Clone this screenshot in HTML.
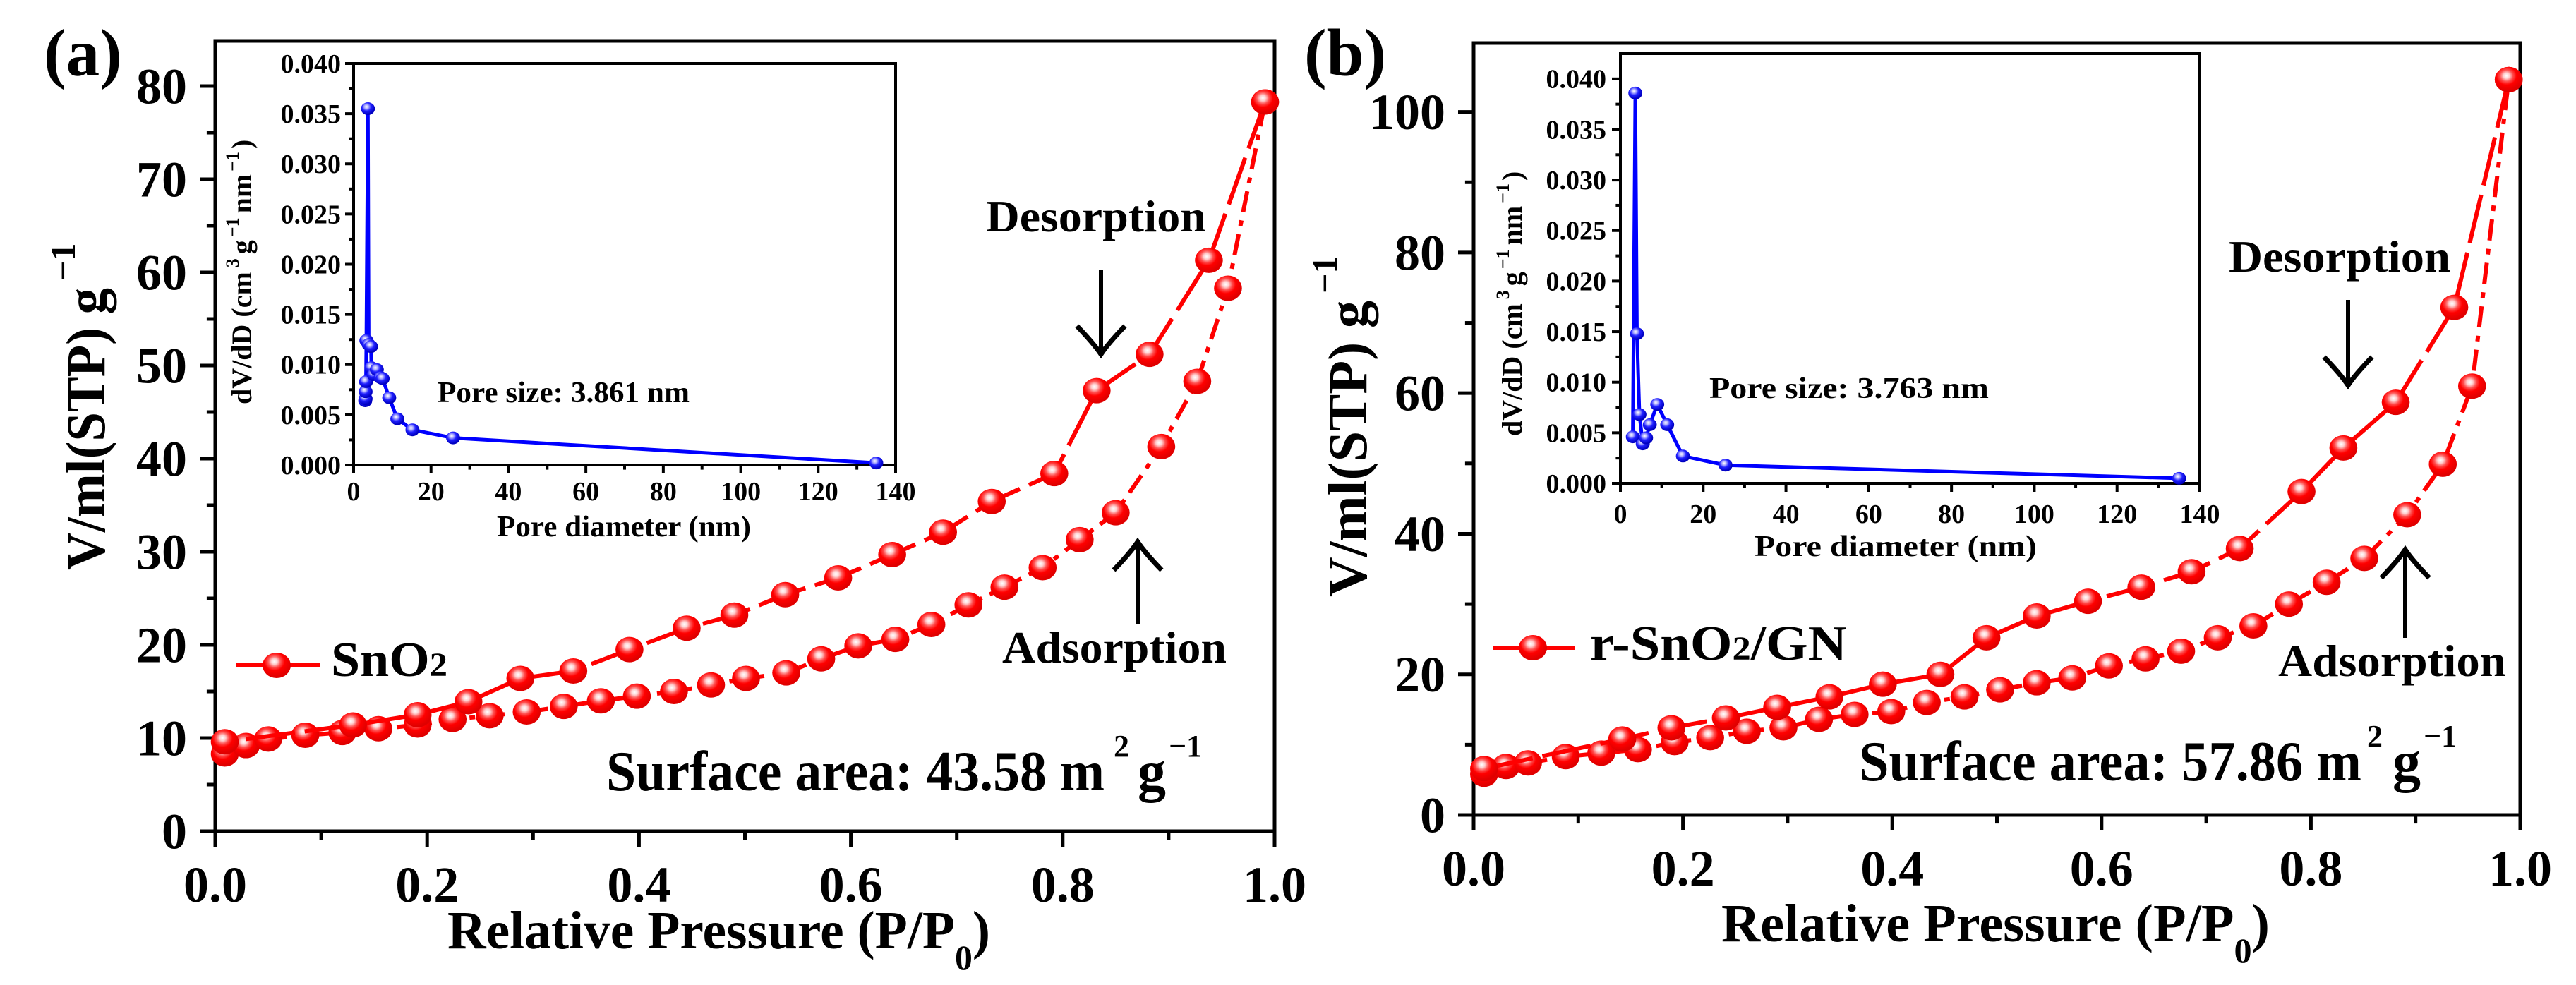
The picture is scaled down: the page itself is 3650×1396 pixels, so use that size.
<!DOCTYPE html>
<html><head><meta charset="utf-8">
<style>
html,body{margin:0;padding:0;background:#fff;}
svg{display:block;font-family:"Liberation Serif","Times New Roman",serif;font-weight:bold;}
</style></head>
<body>
<svg id="fig" width="3650" height="1396" viewBox="0 0 3650 1396" xmlns="http://www.w3.org/2000/svg">
<defs>
<radialGradient id="rg" cx="0.42" cy="0.35" r="0.6">
<stop offset="0" stop-color="#ffffff"/><stop offset="0.18" stop-color="#ffd0d0"/><stop offset="0.38" stop-color="#ff5050"/><stop offset="0.6" stop-color="#ff0000"/><stop offset="1" stop-color="#e00000"/>
</radialGradient>
<radialGradient id="bg" cx="0.4" cy="0.35" r="0.6">
<stop offset="0" stop-color="#ffffff"/><stop offset="0.25" stop-color="#b0b0ff"/><stop offset="0.55" stop-color="#2020ff"/><stop offset="1" stop-color="#0000c0"/>
</radialGradient>
</defs>
<g id="layer"></g>

<text x="62" y="107" font-size="95">(a)</text>
<text x="1848" y="107" font-size="95">(b)</text>

<!-- Panel a texts -->
<text x="634" y="1344" font-size="76" textLength="769" lengthAdjust="spacingAndGlyphs">Relative Pressure (P/P<tspan dy="30" font-size="50">0</tspan><tspan dy="-30">)</tspan></text>
<text transform="translate(148,808) rotate(-90)" font-size="78"><tspan textLength="400" lengthAdjust="spacingAndGlyphs">V/ml(STP) g</tspan><tspan dy="-42" dx="10" font-size="50">−1</tspan></text>

<text transform="translate(356,573) rotate(-90)" font-size="40">dV/dD (cm<tspan dy="-18" dx="6" font-size="26">3</tspan><tspan dy="18" dx="6">g</tspan><tspan dy="-18" dx="4" font-size="26">−1</tspan><tspan dy="18" dx="6">nm</tspan><tspan dy="-18" dx="4" font-size="26">−1</tspan><tspan dy="18" dx="4">)</tspan></text>
<text x="704" y="760" font-size="42" textLength="360" lengthAdjust="spacingAndGlyphs">Pore diameter (nm)</text>
<text x="620" y="570" font-size="42" textLength="357" lengthAdjust="spacingAndGlyphs">Pore size: 3.861 nm</text>

<text x="469" y="958" font-size="70" textLength="165" lengthAdjust="spacingAndGlyphs">SnO<tspan font-size="48">2</tspan></text>
<text x="1397" y="328" font-size="64" textLength="312" lengthAdjust="spacingAndGlyphs">Desorption</text>
<text x="1420" y="939" font-size="64" textLength="318" lengthAdjust="spacingAndGlyphs">Adsorption</text>
<text x="859" y="1120" font-size="80" textLength="706" lengthAdjust="spacingAndGlyphs">Surface area: 43.58 m</text>
<text x="1578" y="1072" font-size="44">2</text>
<text x="1612" y="1120" font-size="80">g</text>
<text x="1656" y="1072" font-size="44">−1</text>

<!-- Panel b texts -->
<text x="2439" y="1334" font-size="76" textLength="777" lengthAdjust="spacingAndGlyphs">Relative Pressure (P/P<tspan dy="30" font-size="50">0</tspan><tspan dy="-30">)</tspan></text>
<text transform="translate(1936,846) rotate(-90)" font-size="78"><tspan textLength="420" lengthAdjust="spacingAndGlyphs">V/ml(STP) g</tspan><tspan dy="-42" dx="10" font-size="50">−1</tspan></text>

<text transform="translate(2156,618) rotate(-90)" font-size="40">dV/dD (cm<tspan dy="-18" dx="6" font-size="26">3</tspan><tspan dy="18" dx="6">g</tspan><tspan dy="-18" dx="4" font-size="26">−1</tspan><tspan dy="18" dx="6">nm</tspan><tspan dy="-18" dx="4" font-size="26">−1</tspan><tspan dy="18" dx="4">)</tspan></text>
<text x="2486" y="788" font-size="42" textLength="400" lengthAdjust="spacingAndGlyphs">Pore diameter (nm)</text>
<text x="2422" y="564" font-size="42" textLength="396" lengthAdjust="spacingAndGlyphs">Pore size: 3.763 nm</text>

<text x="2253" y="935" font-size="70" textLength="364" lengthAdjust="spacingAndGlyphs">r-SnO<tspan font-size="48">2</tspan>/GN</text>
<text x="3158" y="385" font-size="64" textLength="314" lengthAdjust="spacingAndGlyphs">Desorption</text>
<text x="3228" y="958" font-size="64" textLength="323" lengthAdjust="spacingAndGlyphs">Adsorption</text>
<text x="2634" y="1106" font-size="80" textLength="712" lengthAdjust="spacingAndGlyphs">Surface area: 57.86 m</text>
<text x="3354" y="1058" font-size="44">2</text>
<text x="3390" y="1106" font-size="80">g</text>
<text x="3434" y="1058" font-size="44">−1</text>
</svg>

<script>
// ---------- data ----------
const xTicksMain = [0, 0.2, 0.4, 0.6, 0.8, 1.0];
const xTickLabelsMain = ["0.0", "0.2", "0.4", "0.6", "0.8", "1.0"];
const yTicksA = [0, 10, 20, 30, 40, 50, 60, 70, 80];
const yTicksB = [0, 20, 40, 60, 80, 100];
const insetXTicks = [0, 20, 40, 60, 80, 100, 120, 140];
const insetYTicks = [0, 0.005, 0.01, 0.015, 0.02, 0.025, 0.03, 0.035, 0.04];
const insetYTickLabels = ["0.000","0.005","0.010","0.015","0.020","0.025","0.030","0.035","0.040"];

const aAdsX = [0.009,0.029,0.050,0.085,0.120,0.154,0.191,0.224,0.259,0.294,0.329,0.364,0.398,0.433,0.468,0.501,0.539,0.572,0.607,0.642,0.676,0.711,0.745,0.781,0.816,0.850,0.893,0.927,0.956,0.991];
const aAdsY = [8.3,9.2,9.9,10.3,10.6,11.0,11.4,12.0,12.4,12.8,13.4,14.0,14.5,15.0,15.7,16.4,17.0,18.5,19.9,20.6,22.2,24.3,26.2,28.3,31.3,34.2,41.3,48.3,58.3,78.3];
const aDesX = [0.991,0.938,0.882,0.832,0.792,0.733,0.687,0.639,0.588,0.538,0.490,0.445,0.391,0.338,0.288,0.239,0.191,0.130,0.009];
const aDesY = [78.3,61.3,51.2,47.3,38.4,35.4,32.1,29.7,27.2,25.4,23.2,21.8,19.5,17.2,16.4,13.9,12.5,11.4,9.6];

const bAdsX = [0.010,0.031,0.052,0.088,0.122,0.157,0.192,0.226,0.261,0.296,0.330,0.364,0.399,0.433,0.469,0.503,0.538,0.572,0.607,0.642,0.676,0.711,0.745,0.779,0.815,0.851,0.892,0.926,0.954,0.989];
const bAdsY = [5.8,6.9,7.4,8.3,8.8,9.3,10.3,11.0,11.9,12.4,13.6,14.3,14.7,16.0,16.8,17.8,18.8,19.5,21.2,22.2,23.3,25.2,26.9,30.0,33.1,36.5,42.7,49.9,61.0,104.6];
const bDesX = [0.989,0.937,0.881,0.831,0.791,0.732,0.686,0.638,0.587,0.538,0.490,0.446,0.391,0.340,0.290,0.241,0.189,0.142,0.010];
const bDesY = [104.6,72.2,58.7,52.2,46.0,37.9,34.6,32.4,30.4,28.3,25.2,20.0,18.6,16.8,15.3,13.8,12.4,10.8,6.6];

const insetAX = [3.0,3.1,3.1,3.2,3.3,3.7,3.9,4.5,4.6,5.2,6.0,7.0,7.5,9.2,11.3,15.2,25.7,135];
const insetAY = [0.0064,0.0066,0.0073,0.0083,0.0124,0.0355,0.0120,0.0118,0.0097,0.0090,0.0095,0.0087,0.0086,0.0067,0.0046,0.0035,0.0027,0.0002];
const insetBX = [3.0,3.6,4.0,4.6,5.4,6.2,7.1,8.9,11.3,15.1,25.4,135];
const insetBY = [0.0046,0.0386,0.0148,0.0068,0.0039,0.0045,0.0058,0.0078,0.0058,0.0027,0.0018,0.0005];

// ---------- drawing ----------
const NS = "http://www.w3.org/2000/svg";
const layer = document.getElementById('layer');
function mk(tag, attrs, parent) {
  const e = document.createElementNS(NS, tag);
  for (const k in attrs) e.setAttribute(k, attrs[k]);
  (parent || layer).appendChild(e);
  return e;
}
function scale(d0, d1, r0, r1) { return v => r0 + (v - d0) / (d1 - d0) * (r1 - r0); }

function axes(p, xt, xl, yt, yl, minorX, minorY, fs, tickLen, lw, labelGap) {
  const sx = scale(p.xmin, p.xmax, p.x0, p.x1);
  const sy = scale(p.ymin, p.ymax, p.yb, p.yt);
  const fr = mk('rect', {x:p.x0, y:p.yt, width:p.x1-p.x0, height:p.yb-p.yt, fill:'none', stroke:'#000', 'stroke-width':lw});
  
  
  xt.forEach((v, i) => {
    const t = mk('line', {x1:sx(v), x2:sx(v), y1:p.yb, y2:p.yb+tickLen, stroke:'#000', 'stroke-width':lw});
    
    
    const l = mk('text', {x:sx(v), y:p.yb+labelGap.x, 'font-size':fs, 'text-anchor':'middle'});
    l.textContent = xl[i];
    
    
  });
  minorX.forEach(v => {
    const t = mk('line', {x1:sx(v), x2:sx(v), y1:p.yb, y2:p.yb+tickLen*0.55, stroke:'#000', 'stroke-width':lw});
    
    
  });
  yt.forEach((v, i) => {
    const t = mk('line', {x1:p.x0-tickLen, x2:p.x0, y1:sy(v), y2:sy(v), stroke:'#000', 'stroke-width':lw});
    
    
    const l = mk('text', {x:p.x0-labelGap.y, y:sy(v)+fs*0.34, 'font-size':fs, 'text-anchor':'end'});
    l.textContent = yl[i];
    
    
  });
  minorY.forEach(v => {
    const t = mk('line', {x1:p.x0-tickLen*0.55, x2:p.x0, y1:sy(v), y2:sy(v), stroke:'#000', 'stroke-width':lw});
    
    
  });
  return {sx, sy};
}

function series(s, xs, ys, color, lw, dash, grad, r, name) {
  const pts = xs.map((x, i) => s.sx(x) + ',' + s.sy(ys[i])).join(' ');
  const pl = mk('polyline', {points:pts, fill:'none', stroke:color, 'stroke-width':lw, 'stroke-dasharray':dash, 'stroke-linejoin':'round'});
  
  
  xs.forEach((x, i) => {
    const c = mk('ellipse', {cx:s.sx(x), cy:s.sy(ys[i]), rx:r*1.1, ry:r, fill:grad});
    
    
  });
}

function arrow(x, yFrom, yTo, name) {
  const g = mk('g', {stroke:'#000', 'stroke-width':6, fill:'none'});
  
  
  mk('line', {x1:x, x2:x, y1:yFrom, y2:yTo}, g);
  const d = yTo > yFrom ? -1 : 1;
  mk('path', {d:`M${x-34},${yTo+d*40} Q${x-10},${yTo+d*15} ${x},${yTo} Q${x+10},${yTo+d*15} ${x+34},${yTo+d*40}`, 'stroke-width':7}, g);
}

const minor = (arr) => arr.slice(0, -1).map((v, i) => (v + arr[i+1]) / 2);

// Panel A
const pA = {name:'panel-a', x0:305, x1:1806, yt:58, yb:1178, xmin:0, xmax:1, ymin:0, ymax:84.85};
const sA = axes(pA, xTicksMain, xTickLabelsMain, yTicksA, yTicksA.map(String), minor(xTicksMain), minor(yTicksA), 72, 22, 5, {x:100, y:40});
series(sA, aAdsX, aAdsY, '#ff0000', 6, '30 12 8 12', 'url(#rg)', 18, 'adsorption-a');
series(sA, aDesX, aDesY, '#ff0000', 6, '70 14', 'url(#rg)', 18, 'desorption-a');

// Panel B
const pB = {name:'panel-b', x0:2088, x1:3571, yt:61, yb:1155, xmin:0, xmax:1, ymin:0, ymax:109.8};
const sB = axes(pB, xTicksMain, xTickLabelsMain, yTicksB, yTicksB.map(String), minor(xTicksMain), minor(yTicksB), 72, 22, 5, {x:100, y:40});
series(sB, bAdsX, bAdsY, '#ff0000', 6, '30 12 8 12', 'url(#rg)', 18, 'adsorption-b');
series(sB, bDesX, bDesY, '#ff0000', 6, '70 14', 'url(#rg)', 18, 'desorption-b');

// Inset A
const iA = {name:'inset-a', x0:501, x1:1269, yt:90, yb:659, xmin:0, xmax:140, ymin:0, ymax:0.040};
const siA = axes(iA, insetXTicks, insetXTicks.map(String), insetYTicks, insetYTickLabels, minor(insetXTicks), minor(insetYTicks), 38, 12, 4, {x:50, y:18});
series(siA, insetAX, insetAY, '#0000ff', 5, 'none', 'url(#bg)', 9, 'inset-a-psd');

// Inset B
const iB = {name:'inset-b', x0:2296, x1:3117, yt:76, yb:685, xmin:0, xmax:140, ymin:0, ymax:0.0425};
const siB = axes(iB, insetXTicks, insetXTicks.map(String), insetYTicks, insetYTickLabels, minor(insetXTicks), minor(insetYTicks), 38, 12, 4, {x:56, y:20});
series(siB, insetBX, insetBY, '#0000ff', 5, 'none', 'url(#bg)', 9, 'inset-b-psd');

// legends
const lgA = mk('line', {x1:334, x2:454, y1:943, y2:943, stroke:'#ff0000', 'stroke-width':6});


const lmA = mk('ellipse', {cx:392, cy:943, rx:20, ry:18, fill:'url(#rg)'});


const lgB = mk('line', {x1:2116, x2:2232, y1:918, y2:918, stroke:'#ff0000', 'stroke-width':6});


const lmB = mk('ellipse', {cx:2172, cy:918, rx:20, ry:18, fill:'url(#rg)'});



// arrows
arrow(1560, 382, 502, 'desorption-arrow-a');
arrow(1612, 884, 768, 'adsorption-arrow-a');
arrow(3327, 425, 546, 'desorption-arrow-b');
arrow(3408, 904, 779, 'adsorption-arrow-b');
</script>
</body></html>
